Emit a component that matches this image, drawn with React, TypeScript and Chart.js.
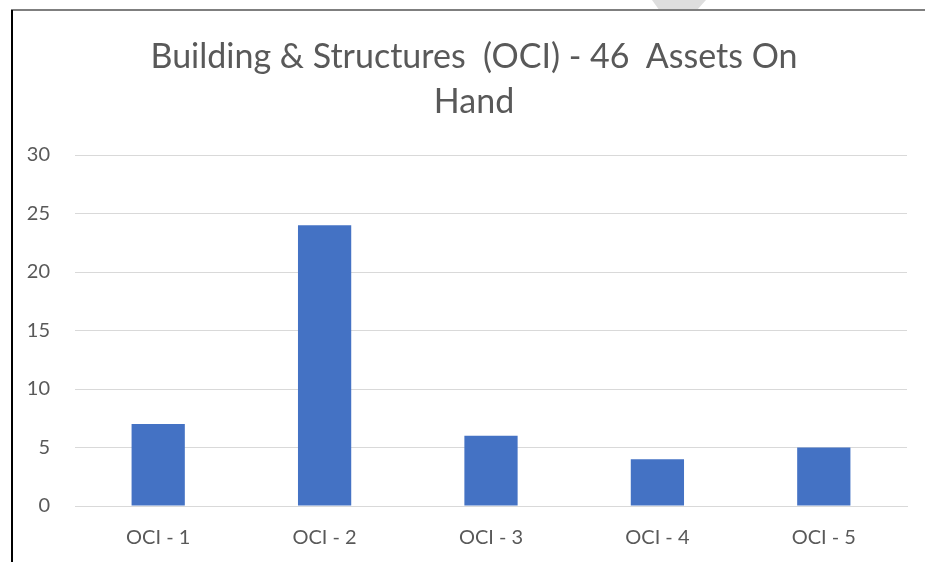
import React, { useEffect, useRef } from "react";
import { Chart, registerables } from "chart.js";

Chart.register(...registerables);

const categories = ["OCI - 1", "OCI - 2", "OCI - 3", "OCI - 4", "OCI - 5"];
const assetCounts = [7, 24, 6, 4, 5];
const titleLines = ["Building & Structures  (OCI) - 46  Assets On", "Hand"];
const yMin = 0;
const yMax = 30;
const yStep = 5;

const FONT = "Lato, 'Noto Sans', sans-serif";
const TEXT = "#595959";

export default function App() {
  const canvasRef = useRef<HTMLCanvasElement | null>(null);

  useEffect(() => {
    document.body.style.margin = "0";
    const ctx = canvasRef.current;
    if (!ctx) return;
    const chart = new Chart(ctx, {
      type: "bar",
      data: {
        labels: categories,
        datasets: [
          {
            label: "Assets",
            data: assetCounts,
            backgroundColor: "#4472C4",
            borderWidth: 0,
            categoryPercentage: 1,
            barPercentage: 0.32,
          },
        ],
      },
      options: {
        animation: false,
        responsive: false,
        maintainAspectRatio: false,
        layout: { padding: { left: 0, right: 18, top: 155, bottom: 0 } },
        plugins: {
          legend: { display: false },
          tooltip: { enabled: false },
          title: { display: false },
        },
        scales: {
          x: {
            grid: { display: false, drawTicks: false },
            border: { display: true, color: "#d9d9d9", width: 1 },
            ticks: {
              color: TEXT,
              font: { family: FONT, size: 20 },
              padding: 20,
              maxRotation: 0,
            },
            afterFit: (scale: any) => {
              scale.height = 56;
            },
          },
          y: {
            min: yMin,
            max: yMax,
            grid: { color: "#d9d9d9", lineWidth: 1, drawTicks: false },
            border: { display: false },
            ticks: {
              stepSize: yStep,
              color: TEXT,
              font: { family: FONT, size: 20 },
              padding: 25,
            },
            afterFit: (scale: any) => {
              scale.width = 75;
            },
          },
        },
      },
    });
    return () => chart.destroy();
  }, []);

  return (
    <div style={{ position: "relative", width: 925, height: 562, overflow: "hidden", background: "#fff" }}>
      <canvas ref={canvasRef} width={925} height={562} style={{ position: "absolute", left: 0, top: 0 }} />
      <div
        style={{
          position: "absolute",
          left: 74,
          width: 800,
          top: 32,
          textAlign: "center",
          fontFamily: FONT,
          fontSize: 34,
          lineHeight: "45px",
          color: TEXT,
          whiteSpace: "pre",
        }}
      >
        {titleLines.join("\n")}
      </div>
      <div
        style={{
          position: "absolute",
          left: 652,
          top: 0,
          width: 54,
          height: 9,
          background: "#dedede",
          clipPath: "polygon(0 0, 100% 0, 85% 100%, 12% 100%)",
        }}
      />
      <div style={{ position: "absolute", left: 11, top: 9, width: 914, height: 2, background: "#7f7f7f" }} />
      <div style={{ position: "absolute", left: 11, top: 10, width: 2, height: 552, background: "#000" }} />
    </div>
  );
}
